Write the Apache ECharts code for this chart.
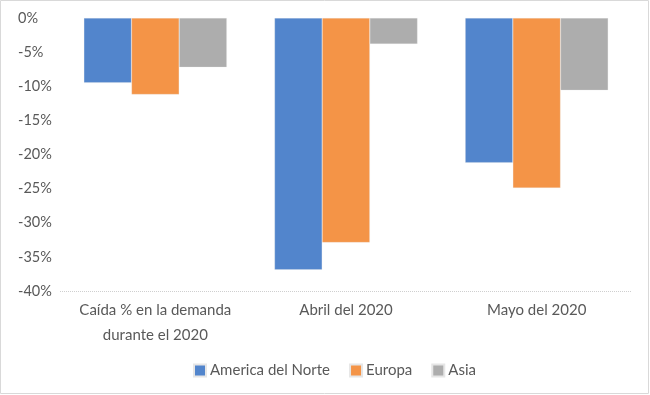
<!DOCTYPE html>
<html><head><meta charset="utf-8">
<script src="https://cdn.jsdelivr.net/npm/echarts@6/dist/echarts.min.js"></script>
<style>html,body{margin:0;padding:0;background:#fff}#c{width:650px;height:395px}</style>
</head><body><div id="c"></div>
<script>
const categories = ['Caída % en la demanda\ndurante el 2020', 'Abril del 2020', 'Mayo del 2020'];
const seriesNames = ['America del Norte', 'Europa', 'Asia'];
const americaNorte = [-9.5, -36.9, -21.2];
const europa = [-11.2, -32.9, -24.9];
const asia = [-7.2, -3.8, -10.6];
const yTicks = [0, -5, -10, -15, -20, -25, -30, -35, -40];
const colors = ['#5285CC', '#F49447', '#ADADAD'];
const font = 'Lato';

const chart = echarts.init(document.getElementById('c'));
const values = [americaNorte, europa, asia];
chart.setOption({
  animation: false,
  textStyle: {fontFamily: font},
  grid: {left: 60, right: 18, top: 18, bottom: 104, containLabel: false},
  graphic: [{type: 'rect', shape: {x: 0.5, y: 0.5, width: 648, height: 393},
    style: {fill: 'none', stroke: '#D9D9D9', lineWidth: 1}, silent: true}],
  legend: {
    top: 358, left: 188, itemWidth: 12, itemHeight: 12, itemGap: 19,
    icon: 'rect',
    textStyle: {fontFamily: font, fontSize: 15, color: '#595959', padding: [0, 0, 0, -1]},
    data: seriesNames
  },
  xAxis: {
    type: 'category', data: categories, position: 'bottom',
    axisLine: {show: false}, axisTick: {show: false},
    axisLabel: {fontFamily: font, fontSize: 15, color: '#595959', margin: 7, lineHeight: 25, interval: 0}
  },
  yAxis: {
    type: 'value', min: -40, max: 0, interval: 5,
    axisLine: {show: false}, axisTick: {show: false},
    axisLabel: {fontFamily: font, fontSize: 14.5, color: '#595959', align: 'left', margin: 42,
      formatter: v => yTicks.includes(v) ? v + '%' : ''},
    splitLine: {show: false}
  },
  series: seriesNames.map((n, i) => ({
    name: n, type: 'bar', data: values[i],
    barGap: '0%', barCategoryGap: '25%',
    itemStyle: {color: colors[i], borderColor: '#E6E6E6', borderWidth: 0.5, borderType: 'dotted'}
  })).concat([{
    type: 'line', data: [], markLine: {
      silent: true, symbol: 'none', label: {show: false},
      lineStyle: {color: '#CFCFCF', type: [1, 1], width: 1},
      data: [{yAxis: -40}]
    }
  }])
});
</script></body></html>
